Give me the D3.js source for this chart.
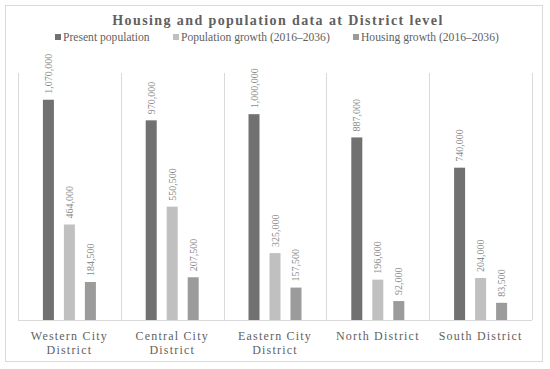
<!DOCTYPE html>
<html>
<head>
<script src="https://d3js.org/d3.v7.min.js"></script>
<style>
  html, body { margin: 0; padding: 0; background: #fff; }
  svg text { font-family: "Liberation Serif", "Times New Roman", serif; }
</style>
</head>
<body>
<div id="chart"></div>
<script>
// data
var districts = ["Western City District", "Central City District", "Eastern City District", "North District", "South District"];
var districtLines = [["Western City", "District"], ["Central City", "District"], ["Eastern City", "District"], ["North District"], ["South District"]];
var series = ["Present population", "Population growth (2016\u20132036)", "Housing growth (2016\u20132036)"];
var presentPop = [1070000, 970000, 1000000, 887000, 740000];
var popGrowth = [464000, 550500, 325000, 196000, 204000];
var housingGrowth = [184500, 207500, 157500, 92000, 83500];
var colors = ["#717171", "#c0c0c0", "#9b9b9b"];

var W = 550, H = 369;
var svg = d3.select("#chart").append("svg").attr("width", W).attr("height", H);

// outer frame
svg.append("rect").attr("x", 5.5).attr("y", 5.5).attr("width", 537).attr("height", 356)
    .attr("fill", "#fff").attr("stroke", "#d9d9d9");

var x0 = d3.scaleBand().domain(districts).range([18, 532]);
var x1 = d3.scaleBand().domain(series).range([0, x0.bandwidth()])
    .paddingInner(0.476).paddingOuter(1.186);
var y = d3.scaleLinear().domain([0, 1200000]).range([320, 73]);

// vertical dividers
var edges = districts.map(function(d) { return x0(d); }).concat([x0.range()[1]]);
svg.selectAll("line.div").data(edges).enter().append("line")
    .attr("x1", function(d) { return Math.round(d) + 0.5; })
    .attr("x2", function(d) { return Math.round(d) + 0.5; })
    .attr("y1", y.range()[1]).attr("y2", y.range()[0])
    .attr("stroke", "#d9d9d9");

// baseline
svg.append("line").attr("x1", 18).attr("x2", 532)
    .attr("y1", y(0) + 0.5).attr("y2", y(0) + 0.5).attr("stroke", "#d9d9d9");

var rows = districts.map(function(d, i) {
  return [presentPop[i], popGrowth[i], housingGrowth[i]].map(function(v, j) {
    return { district: d, s: series[j], j: j, v: v };
  });
});

var g = svg.selectAll("g.grp").data(rows).enter().append("g")
    .attr("transform", function(d) { return "translate(" + x0(d[0].district) + ",0)"; });

g.selectAll("rect").data(function(d) { return d; }).enter().append("rect")
    .attr("x", function(d) { return x1(d.s); })
    .attr("width", x1.bandwidth())
    .attr("y", function(d) { return y(d.v); })
    .attr("height", function(d) { return y(0) - y(d.v); })
    .attr("fill", function(d) { return colors[d.j]; });

var fmt = d3.format(",");
g.selectAll("text.val").data(function(d) { return d; }).enter().append("text")
    .attr("class", "val")
    .attr("transform", function(d) {
      return "translate(" + (x1(d.s) + x1.bandwidth() / 2) + "," + (y(d.v) - 6) + ") rotate(-90)";
    })
    .attr("dominant-baseline", "central")
    .attr("font-size", 10)
    .attr("fill", "#8a8a8a")
    .text(function(d) { return fmt(d.v); });

// category labels
districts.forEach(function(d, i) {
  var t = svg.append("text")
      .attr("x", x0(d) + x0.bandwidth() / 2)
      .attr("y", 340)
      .attr("text-anchor", "middle")
      .attr("font-size", 12)
      .attr("letter-spacing", 1.2)
      .attr("fill", "#5f5f5f");
  districtLines[i].forEach(function(line, k) {
    t.append("tspan").attr("x", x0(d) + x0.bandwidth() / 2).attr("dy", k ? 13.5 : 0).text(line);
  });
});

// title
svg.append("text").attr("x", 278).attr("y", 25)
    .attr("text-anchor", "middle")
    .attr("font-size", 14).attr("font-weight", "bold")
    .attr("letter-spacing", 1.4)
    .attr("fill", "#606060")
    .text("Housing and population data at District level");

// legend
var legX = [55, 173, 353];
var leg = svg.selectAll("g.leg").data(series).enter().append("g")
    .attr("transform", function(d, i) { return "translate(" + legX[i] + ",37)"; });
leg.append("rect").attr("x", 0).attr("y", -3).attr("width", 6).attr("height", 6)
    .attr("fill", function(d, i) { return colors[i]; });
leg.append("text").attr("x", 8).attr("y", 0)
    .attr("dominant-baseline", "central")
    .attr("font-size", 11.6).attr("fill", "#5f5f5f")
    .text(function(d) { return d; });
</script>
</body>
</html>
